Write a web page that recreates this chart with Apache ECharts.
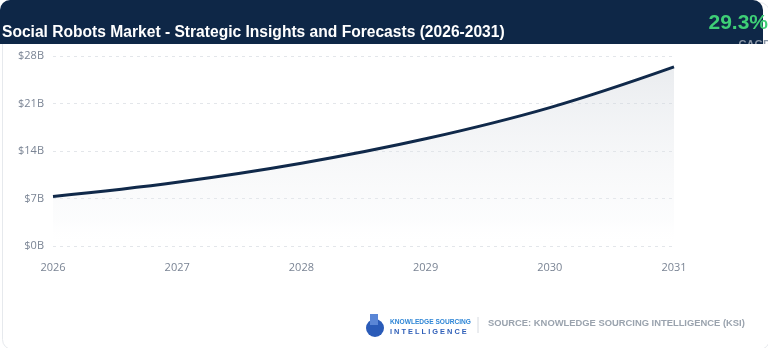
<!DOCTYPE html>
<html><head><meta charset="utf-8">
<script src="https://cdn.jsdelivr.net/npm/echarts@6/dist/echarts.min.js"></script>
<style>html,body{margin:0;padding:0;background:#fff;}#c{width:768px;height:348px;}</style>
</head><body><div id="c"></div>
<script>
const years = ['2026','2027','2028','2029','2030','2031'];
const marketValues = [7.3, 9.4, 12.2, 15.8, 20.4, 26.4];
const yTicks = [0, 7, 14, 21, 28];
const titleText = 'Social Robots Market - Strategic Insights and Forecasts (2026-2031)';
const cagrText = '29.3%';
const sourceText = 'SOURCE: KNOWLEDGE SOURCING INTELLIGENCE (KSI)';

const chart = echarts.init(document.getElementById('c'), null, {renderer:'canvas'});
chart.setOption({
  animation:false,
  backgroundColor:'#ffffff',
  grid:{left:53, right:94, top:56, bottom:102},
  xAxis:{type:'category', data:years, boundaryGap:false,
    axisLine:{show:false}, axisTick:{show:false},
    axisLabel:{color:'#7a8494', fontSize:11, fontFamily:'Open Sans', margin:16}},
  yAxis:{type:'value', min:yTicks[0], max:yTicks[yTicks.length-1], interval:7,
    axisLine:{show:false}, axisTick:{show:false},
    splitLine:{lineStyle:{color:'#e3e6ea', type:[3,4], width:1}},
    axisLabel:{color:'#7a8494', fontSize:11, fontFamily:'Open Sans', margin:9, formatter:v=>'$'+v+'B'}},
  series:[{type:'line', data:marketValues, smooth:0.4, symbol:'none',
    lineStyle:{color:'#10294a', width:3},
    areaStyle:{color:new echarts.graphic.LinearGradient(0,0,0,1,[
      {offset:0,color:'rgba(200,206,214,0.55)'},
      {offset:0.85,color:'rgba(240,242,245,0.3)'},
      {offset:1,color:'rgba(255,255,255,0)'}])}
  }],
  graphic:[
    {type:'rect', left:0, top:0, shape:{width:767, height:347, r:10}, style:{fill:'none', stroke:'#e6e9ed', lineWidth:1}, z:-1},
    {type:'rect', left:0, top:0, shape:{width:763, height:44, r:[10,10,0,0]}, style:{fill:'#0e2747'}, z:10},
    {type:'text', left:2, top:25, style:{text:titleText, fill:'#ffffff', font:'bold 15.6px "Liberation Sans", Arial, sans-serif'}, z:11},
    {type:'text', right:0, top:13, style:{text:cagrText, fill:'#3ecf76', font:'bold 21px "Liberation Sans", Arial, sans-serif'}, z:11},
    {type:'text', right:-3, top:39, style:{text:'CAGR', fill:'#8a96a6', font:'bold 11px "Liberation Sans", Arial, sans-serif'}, z:11},
    {type:'rect', shape:{x:700, y:44, width:68, height:8}, style:{fill:'#ffffff'}, z:12},
    {type:'circle', shape:{cx:375, cy:328, r:9}, style:{fill:'#2a5bb8'}, z:11},
    {type:'rect', shape:{x:370, y:314, width:8, height:11}, style:{fill:'#5a86d6'}, z:12},
    {type:'text', left:390, top:319, style:{text:'KNOWLEDGE SOURCING', fill:'#2f86d6', font:'bold 6.6px "Liberation Sans", Arial, sans-serif'}, z:11},
    {type:'text', left:390, top:328, style:{text:'I N T E L L I G E N C E', fill:'#2f5fb8', font:'bold 7.4px "Liberation Sans", Arial, sans-serif'}, z:11},
    {type:'line', shape:{x1:478, y1:317, x2:478, y2:333}, style:{stroke:'#d6dae0', lineWidth:1}, z:11},
    {type:'text', left:488, top:319, style:{text:sourceText, fill:'#9aa3ae', font:'bold 9.4px "Liberation Sans", Arial, sans-serif'}, z:11}
  ]
});
</script></body></html>
